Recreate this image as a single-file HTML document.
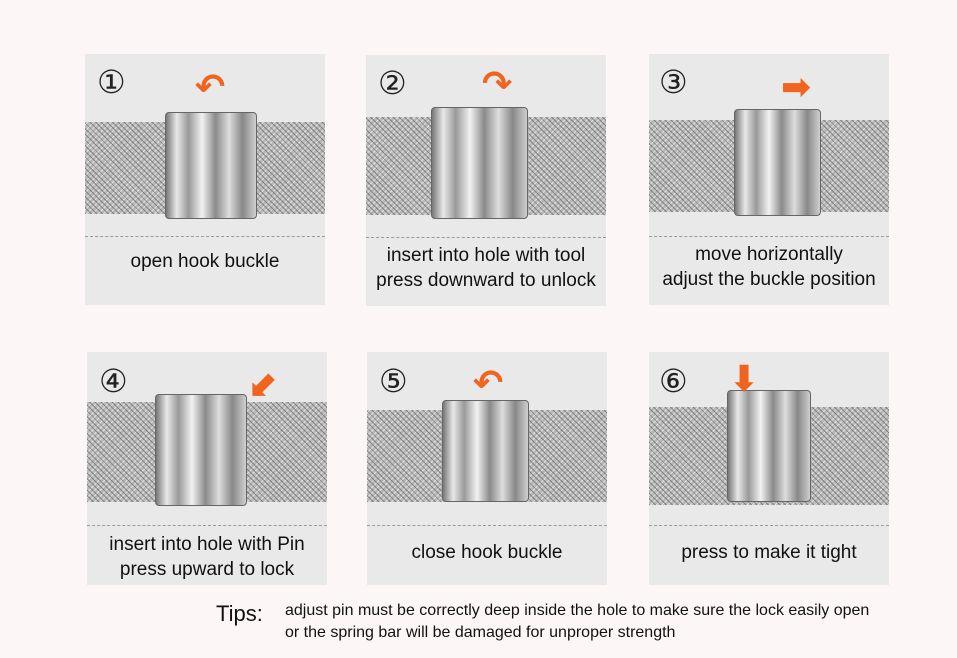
<!DOCTYPE html>
<html><head><meta charset="utf-8"><style>
body{margin:0;width:957px;height:658px;background:#fcf7f6;position:relative;overflow:hidden;font-family:"Liberation Sans",sans-serif}
.p{position:absolute;width:240px;background:#e9e9e9}
.mesh{position:absolute;left:0;width:240px;background-color:#b8b8b8;
background-image:repeating-linear-gradient(45deg,rgba(70,70,70,.5) 0 1px,transparent 1px 4px),repeating-linear-gradient(-45deg,rgba(250,250,250,.6) 0 1px,transparent 1px 4px);}
.bk{position:absolute;border-radius:4px;background:linear-gradient(90deg,#777 0%,#e8e8e8 12%,#999 25%,#f2f2f2 40%,#8a8a8a 55%,#ddd 70%,#888 85%,#cfcfcf 100%);border:1px solid #666}
.dash{position:absolute;left:0;width:240px;border-top:1px dashed #9a9a9a}
.t{position:absolute;left:0;width:240px;text-align:center;font-size:19px;color:#111;line-height:25px}
.n{position:absolute;font-size:32px;color:#222;line-height:32px;font-family:"DejaVu Sans",sans-serif;font-weight:normal}
.arr{position:absolute;color:#f0641e;font-size:36px;font-weight:bold;line-height:36px;font-family:"DejaVu Sans",sans-serif}
</style></head><body>

<div class="p" style="left:85px;top:54px;height:251px">
<div class="mesh" style="top:68px;height:92px"></div>
<div class="bk" style="left:80px;top:58px;width:90px;height:105px"></div>
<div class="dash" style="top:182px"></div>
<div class="n" style="left:12px;top:12px">①</div>
<div class="arr" style="left:110px;top:16px">↶</div>
<div class="t" style="top:195px">open hook buckle</div>
</div>

<div class="p" style="left:366px;top:55px;height:251px">
<div class="mesh" style="top:62px;height:98px"></div>
<div class="bk" style="left:65px;top:52px;width:95px;height:110px"></div>
<div class="dash" style="top:182px"></div>
<div class="n" style="left:12px;top:12px">②</div>
<div class="arr" style="left:116px;top:12px">↷</div>
<div class="t" style="top:188px">insert into hole with tool<br>press downward to unlock</div>
</div>

<div class="p" style="left:649px;top:54px;height:251px">
<div class="mesh" style="top:66px;height:92px"></div>
<div class="bk" style="left:85px;top:55px;width:85px;height:105px"></div>
<div class="dash" style="top:182px"></div>
<div class="n" style="left:10px;top:12px">③</div>
<div class="arr" style="left:132px;top:16px">➡</div>
<div class="t" style="top:188px">move horizontally<br>adjust the buckle position</div>
</div>

<div class="p" style="left:87px;top:352px;height:233px">
<div class="mesh" style="top:50px;height:100px"></div>
<div class="bk" style="left:68px;top:42px;width:90px;height:110px"></div>
<div class="dash" style="top:173px"></div>
<div class="n" style="left:12px;top:13px">④</div>
<div class="arr" style="left:162px;top:14px">⬋</div>
<div class="t" style="top:180px">insert into hole with Pin<br>press upward to lock</div>
</div>

<div class="p" style="left:367px;top:352px;height:233px">
<div class="mesh" style="top:58px;height:92px"></div>
<div class="bk" style="left:75px;top:48px;width:85px;height:100px"></div>
<div class="dash" style="top:173px"></div>
<div class="n" style="left:12px;top:13px">⑤</div>
<div class="arr" style="left:106px;top:14px">↶</div>
<div class="t" style="top:188px">close hook buckle</div>
</div>

<div class="p" style="left:649px;top:352px;height:233px">
<div class="mesh" style="top:55px;height:98px"></div>
<div class="bk" style="left:78px;top:38px;width:82px;height:110px"></div>
<div class="dash" style="top:173px"></div>
<div class="n" style="left:10px;top:13px">⑥</div>
<div class="arr" style="left:80px;top:10px">⬇</div>
<div class="t" style="top:188px">press to make it tight</div>
</div>

<div style="position:absolute;left:216px;top:601px;font-size:22px;color:#111">Tips:</div>
<div style="position:absolute;left:285px;top:600px;font-size:16px;line-height:22px;color:#111;transform:scaleX(1.0);transform-origin:left top;white-space:nowrap">adjust pin must be correctly deep inside the hole to make sure the lock easily open<br>or the spring bar will be damaged for unproper strength</div>
</body></html>
